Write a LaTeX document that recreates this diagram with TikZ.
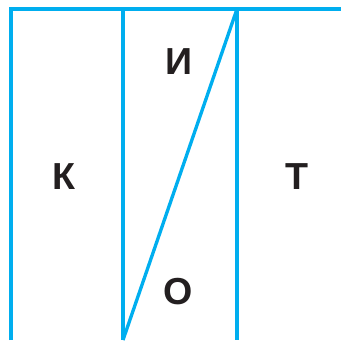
\documentclass[tikz,border=0pt]{standalone}
\usepackage{fontspec}
\setmainfont{Liberation Sans}
\usepackage{tikz}
\usetikzlibrary{positioning}
\definecolor{lineblue}{RGB}{0,174,239}
\definecolor{inkblack}{RGB}{35,31,32}

\begin{document}
\begin{tikzpicture}[x=0.01cm,y=-0.01cm,
		rule/.style={lineblue,line width=0.95pt},
		letter/.style={inkblack,font=\fontsize{10.7}{12}\selectfont\bfseries,inner sep=0pt}]
	\useasboundingbox (0,0) rectangle (341,341);
	% frame corners
	\coordinate (tl) at (11,9);
	\coordinate (tr) at (341,9);
	\coordinate (bl) at (11,340);
	\coordinate (ma) at (123,9);
	\coordinate (mab) at (123,340);
	\coordinate (mb) at (237,9);
	\coordinate (mbb) at (237,340);
	\draw[rule] (bl)--(tl)--(tr);
	\draw[rule] (ma)--(mab);
	\draw[rule] (mb)--(mbb);
	\draw[rule] (mab)--(mb);
	% letters
	\node[letter] (k) at (64,176.5) {К};
	\node[letter] (i) at (179,62) {И};
	\node[letter] (o) at (178,292) {О};
	\node[letter] (t) at (297,176.5) {Т};
\end{tikzpicture}
\end{document}
